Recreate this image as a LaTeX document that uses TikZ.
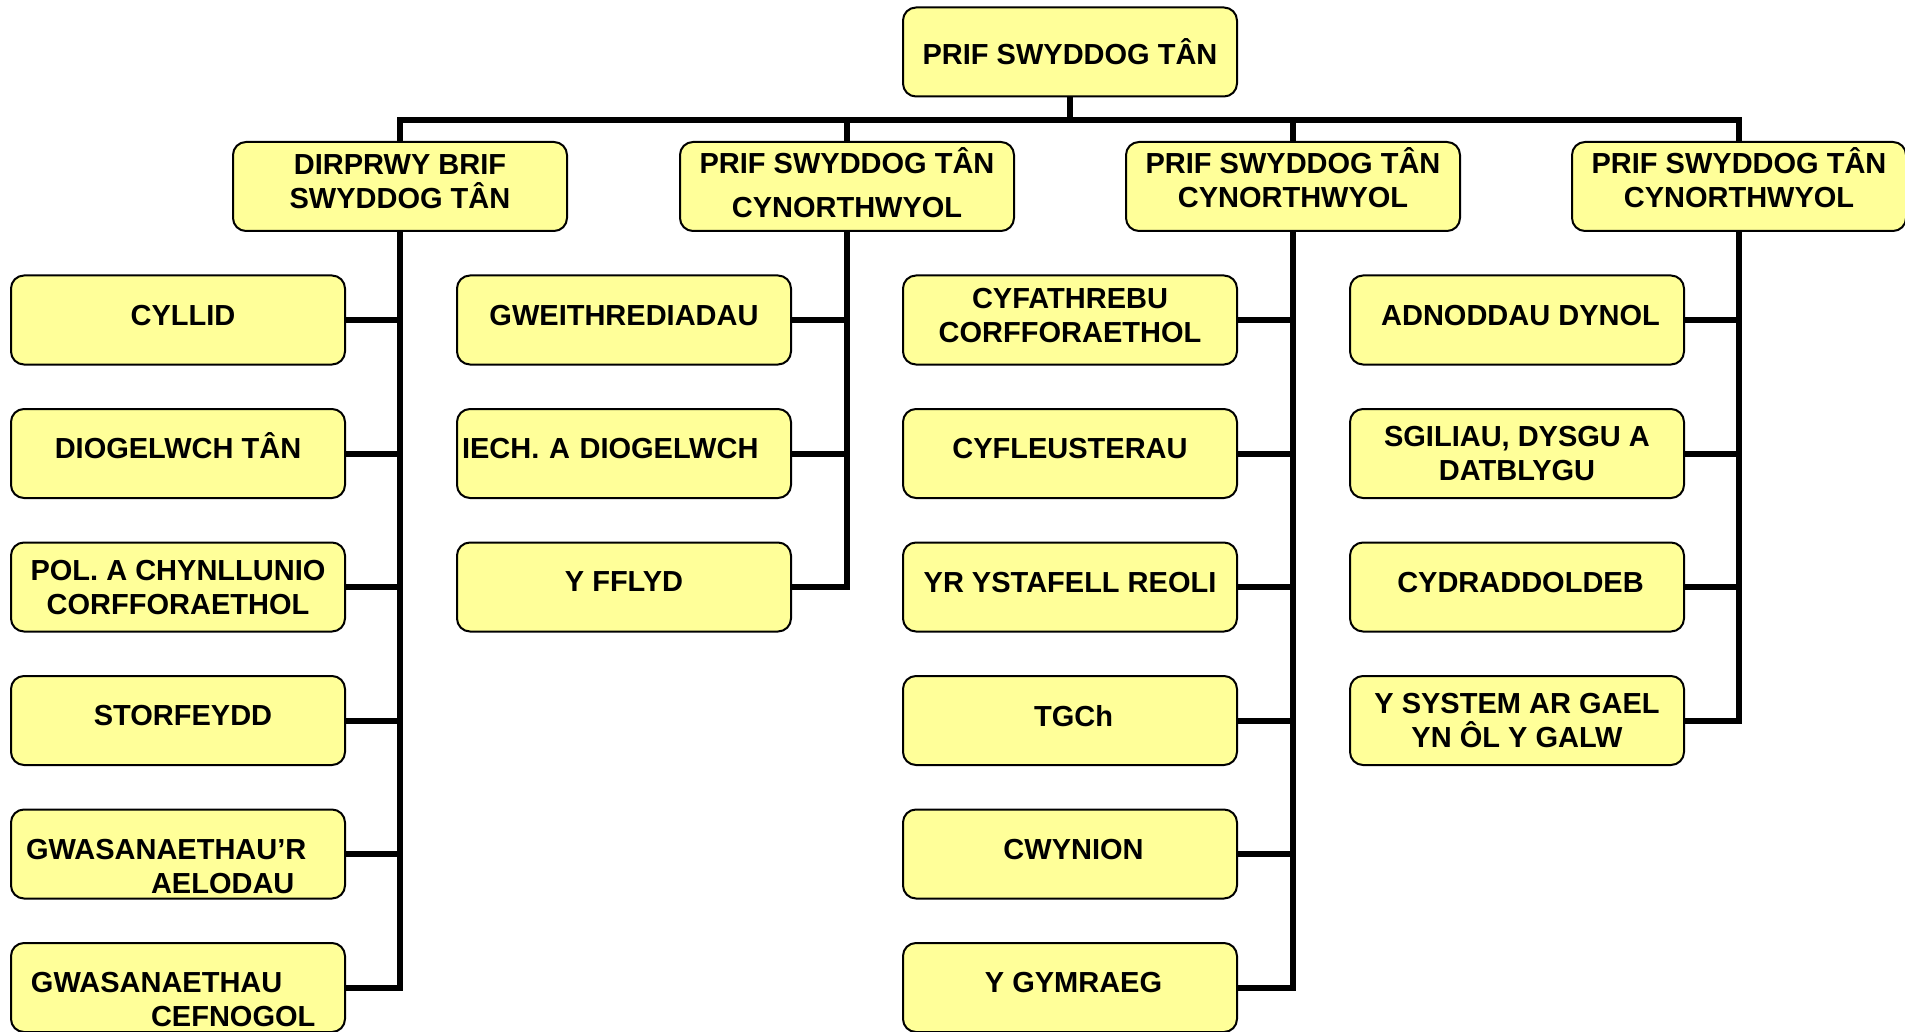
\documentclass[tikz,border=0pt]{standalone}
\usepackage{fontspec}
\setmainfont{Liberation Sans}
\usepackage{tikz}
\definecolor{postyellow}{HTML}{FFFF99}

\begin{document}
\begin{tikzpicture}[x=1pt,y=-1pt]

	\tikzstyle post=[draw=black, line width=2pt, fill=postyellow, rounded corners=13pt, minimum width=334pt, minimum height=89pt, inner sep=0pt, align=center, text depth=10pt, font=\fontsize{29}{34}\selectfont\bfseries];
	\tikzstyle post lines=[line width=6pt];

	\useasboundingbox (0,0) rectangle (1905,1032);
	\clip (0,0) rectangle (1905,1032);

	\node[post, text depth=0pt] (prif) at (1070,52) {PRIF SWYDDOG TÂN};

	\node[post] (dirprwy) at (400,186.5) {DIRPRWY BRIF\\SWYDDOG TÂN};
	\node[post, text depth=8pt] (cyn1) at (847,186.5) {PRIF SWYDDOG TÂN\\[10pt]CYNORTHWYOL};
	\node[post, text depth=17pt] (cyn2) at (1293,186.5) {PRIF SWYDDOG TÂN\\CYNORTHWYOL};
	\node[post, text depth=17pt] (cyn3) at (1739,186.5) {PRIF SWYDDOG TÂN\\CYNORTHWYOL};

	% dirprwy
	\node[post] (cyllid) at (178,320) {\hspace*{10pt}CYLLID};
	\node[post, text depth=15pt] (diogelwch) at (178,453.5) {DIOGELWCH TÂN};
	\node[post, text depth=-10pt] (polisi) at (178,587) {POL. A CHYNLLUNIO\\CORFFORAETHOL};
	\node[post] (storfeydd) at (178,720.5) {\hspace*{10pt}STORFEYDD};
	\node[post, text width=304pt, align=left] (aelodau) at (178,854) {GWASANAETHAU’R\\\hspace*{125pt}AELODAU};
	\node[post, text width=304pt, align=left] (cefnogol) at (178,987.5) {\hspace*{5pt}GWASANAETHAU\\\hspace*{125pt}CEFNOGOL};

	% cynorthwyol 1
	\node[post] (gweithredu) at (624,320) {GWEITHREDIADAU};
	\node[post, text width=324pt, align=left] (iechyd) at (624,453.5) {IECH. A DIOGELWCH};
	\node[post] (fflyd) at (624,587) {Y FFLYD};

	% cynorthwyol 2
	\node[post] (cyfathrebu) at (1070,320) {CYFATHREBU\\CORFFORAETHOL};
	\node[post] (cyfleusterau) at (1070,453.5) {CYFLEUSTERAU};
	\node[post] (reoli) at (1070,587) {YR YSTAFELL REOLI};
	\node[post] (tgch) at (1070,720.5) {\hspace*{7pt}TGCh};
	\node[post] (cwynion) at (1070,854) {\hspace*{7pt}CWYNION};
	\node[post] (cymraeg) at (1070,987.5) {\hspace*{7pt}Y GYMRAEG};

	% cynorthwyol 3
	\node[post] (adnoddau) at (1517,320) {\hspace*{7pt}ADNODDAU DYNOL};
	\node[post, text depth=-14pt] (sgiliau) at (1517,453.5) {SGILIAU, DYSGU A\\DATBLYGU};
	\node[post] (cydraddoldeb) at (1517,587) {\hspace*{7pt}CYDRADDOLDEB};
	\node[post, text depth=-14pt] (galw) at (1517,720.5) {Y SYSTEM AR GAEL\\YN ÔL Y GALW};

	\coordinate (bar) at (0,120);
	\draw[post lines] (prif.south) -- (prif.south |- bar);
	\draw[post lines] (dirprwy.north) |- (cyn3.north |- bar) -- (cyn3.north);
	\draw[post lines] (cyn1.north) -- (cyn1.north |- bar);
	\draw[post lines] (cyn2.north) -- (cyn2.north |- bar);

	\draw[post lines] (dirprwy.south) |- (cefnogol.east);
	\foreach \kid in {cyllid,diogelwch,polisi,storfeydd,aelodau}
		\draw[post lines] (\kid.east) -- (\kid.east -| dirprwy.south);

	\draw[post lines] (cyn1.south) |- (fflyd.east);
	\foreach \kid in {gweithredu,iechyd}
		\draw[post lines] (\kid.east) -- (\kid.east -| cyn1.south);

	\draw[post lines] (cyn2.south) |- (cymraeg.east);
	\foreach \kid in {cyfathrebu,cyfleusterau,reoli,tgch,cwynion}
		\draw[post lines] (\kid.east) -- (\kid.east -| cyn2.south);

	\draw[post lines] (cyn3.south) |- (galw.east);
	\foreach \kid in {adnoddau,sgiliau,cydraddoldeb}
		\draw[post lines] (\kid.east) -- (\kid.east -| cyn3.south);

\end{tikzpicture}
\end{document}
